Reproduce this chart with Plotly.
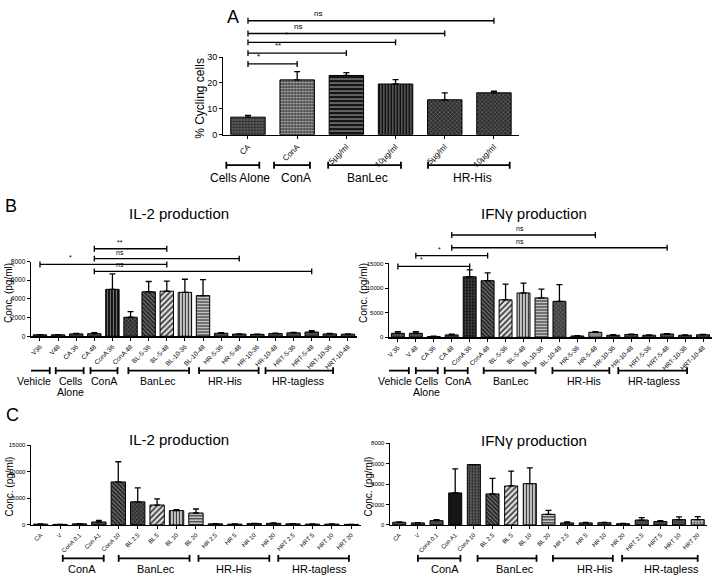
import plotly.graph_objects as go

W, H = 713, 583
FONT = "Arial, 'Liberation Sans', Helvetica, sans-serif"

# ======================= DATA =======================
# Panel A : % cycling cells
a_labels = ["CA", "ConA", "5µg/ml", "10µg/ml", "5µg/ml", "10µg/ml"]
a_values = [6.8, 21.2, 22.9, 19.6, 13.5, 16.2]
a_errors = [0.7, 3.2, 1.1, 1.7, 2.7, 0.6]
a_groups = ["Cells Alone", "ConA", "BanLec", "HR-His"]
a_sig = [(0, 5, "ns"), (0, 4, "ns"), (0, 3, "*"), (0, 2, "**"), (0, 1, "*")]

# Panel B : IL-2 production (pg/ml)
b_il2_labels = ["V36", "V48", "CA 36", "CA 48", "ConA 36", "ConA 48", "BL-5-36", "BL-5-48",
                "BL-10-36", "BL-10-48", "HR-5-36", "HR-5-48", "HR-10-36", "HR-10-48",
                "HRT-5-36", "HRT-5-48", "HRT-10-36", "HRT-10-48"]
b_il2_values = [150, 150, 250, 270, 5020, 2030, 4760, 4820, 4700, 4350, 320, 230, 200, 280, 360, 450, 250, 220]
b_il2_errors = [30, 20, 50, 100, 1650, 600, 1100, 1080, 1400, 1720, 70, 30, 30, 50, 60, 150, 40, 40]
b_il2_sig = [(3, 7, "**"), (3, 11, "ns"), (0, 7, "*"), (3, 15, "ns")]

# Panel B : IFNγ production (pg/ml)
b_ifn_labels = ["V 36", "V 48", "CA 36", "CA 48", "ConA 36", "ConA 48", "BL-5-36", "BL-5-48",
                "BL-10-36", "BL-10-48", "HR-5-36", "HR-5-48", "HR-10-36", "HR-10-48",
                "HRT-5-36", "HRT-5-48", "HRT-10-36", "HRT-10-48"]
b_ifn_values = [800, 800, 150, 470, 12300, 11500, 7600, 9000, 8000, 7300, 250, 1000, 400, 550, 400, 650, 400, 500]
b_ifn_errors = [330, 330, 50, 150, 1400, 1600, 3200, 2000, 1800, 3400, 50, 150, 100, 80, 60, 80, 60, 60]
b_ifn_sig = [(3, 11, "ns"), (3, 15, "ns"), (1, 5, "*"), (0, 4, "*")]
b_groups = ["Vehicle", "Cells\nAlone", "ConA", "BanLec", "HR-His", "HR-tagless"]

# Panel C : dose response
c_labels = ["CA", "V", "ConA 0.1", "Con A1", "ConA 10", "BL 2.5", "BL 5", "BL 10", "BL 20",
            "HR 2.5", "HR 5", "HR 10", "HR 20", "HRT 2.5", "HRT 5", "HRT 10", "HRT 20"]
c_il2_values = [150, 100, 200, 550, 8100, 4350, 3750, 2700, 2250, 200, 150, 250, 300, 200, 150, 150, 100]
c_il2_errors = [30, 20, 50, 310, 3800, 2650, 1150, 200, 750, 40, 30, 60, 100, 40, 30, 30, 20]
c_ifn_values = [260, 200, 420, 3140, 5920, 3040, 3820, 4050, 1040, 200, 200, 220, 120, 480, 330, 520, 520]
c_ifn_errors = [40, 30, 100, 2360, 0, 1520, 1450, 1550, 380, 90, 40, 40, 30, 230, 90, 260, 290]
c_groups = ["ConA", "BanLec", "HR-His", "HR-tagless"]

# ======================= STYLES =======================
STYLES = {
    "solid_dk":  dict(bg="#4a4a4a", shape="",   fg="#000000", size=4, sol=0.3),
    "solid_md":  dict(bg="#8a8a8a", shape="",   fg="#000000", size=4, sol=0.3),
    "solid_blk": dict(bg="#151515", shape="",   fg="#000000", size=4, sol=0.3),
    "dots_dk":   dict(bg="#666666", shape=".",  fg="#222222", size=3, sol=0.45),
    "dots_on_dk": dict(bg="#444444", shape=".", fg="#c0c0c0", size=3, sol=0.4),
    "dots_blk":  dict(bg="#111111", shape=".",  fg="#5a5a5a", size=3, sol=0.4),
    "hl_blk":    dict(bg="#111111", shape="-",  fg="#9a9a9a", size=4, sol=0.3),
    "vl_blk":    dict(bg="#111111", shape="|",  fg="#7a7a7a", size=3, sol=0.35),
    "xh_dk":     dict(bg="#2e2e2e", shape="x",  fg="#7a7a7a", size=3, sol=0.3),
    "xh_md":     dict(bg="#5a5a5a", shape="x",  fg="#222222", size=3, sol=0.35),
    "bd_dk":     dict(bg="#262626", shape="\\", fg="#8a8a8a", size=3, sol=0.3),
    "fd_lt":     dict(bg="#e2e2e2", shape="/",  fg="#333333", size=4, sol=0.4),
    "vl_lt":     dict(bg="#e2e2e2", shape="|",  fg="#333333", size=3, sol=0.45),
    "hl_lt":     dict(bg="#e2e2e2", shape="-",  fg="#222222", size=3, sol=0.45),
    "dots_lt":   dict(bg="#d0d0d0", shape=".",  fg="#333333", size=3, sol=0.4),
}
a_style = ["dots_dk", "dots_on_dk", "hl_blk", "vl_blk", "xh_dk", "xh_dk"]
b_il2_style = ["solid_dk"] * 4 + ["vl_blk", "xh_dk", "bd_dk", "fd_lt", "vl_lt", "hl_lt"] + ["solid_dk"] * 8
b_ifn_style = ["dots_dk", "dots_dk", "solid_dk", "solid_dk", "dots_blk", "bd_dk", "fd_lt", "vl_lt",
               "hl_lt", "xh_md", "solid_dk", "solid_md"] + ["solid_dk"] * 6
c_il2_style = ["solid_dk"] * 4 + ["bd_dk", "xh_dk", "fd_lt", "vl_lt", "hl_lt"] + ["solid_dk"] * 8
c_ifn_style = ["solid_dk"] * 3 + ["solid_blk", "dots_dk", "bd_dk", "fd_lt", "vl_lt", "hl_lt"] + \
              ["solid_dk"] * 7 + ["dots_lt"]

# ======================= LAYOUT (pixel geometry) =======================
def px(x):
    return x / W


def py(y):
    return 1 - y / H


panels = [
    dict(labels=a_labels, values=a_values, errors=a_errors, style=a_style,
         xpx=(222, 518), ypx=(53, 132), ymax=30, dtick=10, bw=0.7, xfont=8, yfont=9,
         title=None, ytitle=("% Cycling cells", 199, 95, 12),
         sig=a_sig, sig_y=[16, 29, 38, 49, 60], sig_lx=[1.43, 1.02, 0.78, 0.61, 0.21], sigfont=8,
         groups=a_groups, gspans=[(-0.44, 0.23), (0.53, 1.26), (1.63, 3.11), (3.66, 5.32)],
         glx=[-0.16, 0.98, 2.42, 4.57], gy=163, gly=176, gfont=12),
    dict(labels=b_il2_labels, values=b_il2_values, errors=b_il2_errors, style=b_il2_style,
         xpx=(29, 356), ypx=(261, 337), ymax=8000, dtick=2000, bw=0.74, xfont=6.5, yfont=6.5,
         title=("IL-2 production", 177, 212), ytitle=("Conc. (pg/ml)", 7, 293, 10),
         sig=b_il2_sig, sig_y=[248, 258, 264, 271], sig_lx=[4.44, 4.44, 1.7, 4.44], sigfont=7,
         groups=b_groups, gspans=[(-0.55, 0.54), (0.87, 2.41), (2.79, 4.28), (4.88, 8.23),
                                  (8.78, 12.07), (12.45, 16.18)],
         glx=[-0.34, 1.7, 3.56, 6.53, 10.2, 14.26], gy=372, gly=383, gfont=10.5),
    dict(labels=b_ifn_labels, values=b_ifn_values, errors=b_ifn_errors, style=b_ifn_style,
         xpx=(388, 712), ypx=(263, 338), ymax=15000, dtick=5000, bw=0.72, xfont=6.5, yfont=6,
         title=("IFNγ production", 533, 212), ytitle=("Conc. (pg/ml)", 363, 293, 10),
         sig=b_ifn_sig, sig_y=[234, 247, 255, 266], sig_lx=[6.83, 6.83, 2.33, 1.33], sigfont=7,
         groups=b_groups, gspans=[(-0.67, 0.61), (1.0, 2.22), (2.61, 3.89), (4.78, 7.67),
                                  (8.61, 11.78), (12.28, 16.11)],
         glx=[-0.17, 1.61, 3.33, 6.28, 10.39, 14.28], gy=372, gly=383, gfont=10.5),
    dict(labels=c_labels, values=c_il2_values, errors=c_il2_errors, style=c_il2_style,
         xpx=(29, 360), ypx=(448, 529), ymax=15000, dtick=5000, bw=0.74, xfont=6, yfont=6,
         title=("IL-2 production", 177, 442), ytitle=("Conc. (pg/ml)", 8, 490, 10),
         sig=[], sig_y=[], sig_lx=[], sigfont=7,
         groups=c_groups, gspans=[(1.14, 3.25), (4.02, 7.67), (8.13, 11.78), (12.24, 15.88)],
         glx=[2.12, 5.92, 9.98, 14.34], gy=563, gly=574, gfont=11),
    dict(labels=c_labels, values=c_ifn_values, errors=c_ifn_errors, style=c_ifn_style,
         xpx=(389, 707), ypx=(446, 529), ymax=8000, dtick=2000, bw=0.7, xfont=6, yfont=6,
         title=("IFNγ production", 533, 443), ytitle=("Conc. (pg/ml)", 368, 490, 10),
         sig=[], sig_y=[], sig_lx=[], sigfont=7,
         groups=c_groups, gspans=[(1.0, 3.28), (4.2, 7.36), (8.24, 11.45), (11.95, 16.0)],
         glx=[2.45, 6.2, 10.5, 14.6], gy=563, gly=574, gfont=11),
]

fig = go.Figure()
shapes, annotations = [], []
layout = {}


def ann(text, x, y, size, xref="paper", yref="paper", xanchor="center", yanchor="middle", angle=0):
    annotations.append(dict(text=text, x=x, y=y, xref=xref, yref=yref, xanchor=xanchor,
                            yanchor=yanchor, textangle=angle, showarrow=False,
                            font=dict(family=FONT, size=size, color="black")))


def bracket(xref, x0, x1, ypx, cap, width):
    y = py(ypx)
    c = cap / H
    shapes.append(dict(type="line", xref=xref, yref="paper", x0=x0, x1=x1, y0=y, y1=y,
                       line=dict(color="black", width=width)))
    for xx in (x0, x1):
        shapes.append(dict(type="line", xref=xref, yref="paper", x0=xx, x1=xx, y0=y - c, y1=y + c,
                           line=dict(color="black", width=width)))


for k, p in enumerate(panels):
    sfx = "" if k == 0 else str(k + 1)
    xa, ya = "x" + sfx, "y" + sfx
    n = len(p["labels"])
    idx = list(range(n))
    # one trace per fill style (bars overlaid at their own category positions)
    for sname in dict.fromkeys(p["style"]):
        s = STYLES[sname]
        sel = [i for i in idx if p["style"][i] == sname]
        fig.add_trace(go.Bar(
            x=sel, y=[p["values"][i] for i in sel], xaxis=xa, yaxis=ya, width=p["bw"],
            showlegend=False,
            marker=dict(color=s["bg"], line=dict(color="black", width=1),
                        pattern=dict(shape=s["shape"], fgcolor=s["fg"], bgcolor=s["bg"],
                                     size=s["size"], solidity=s["sol"], fillmode="replace")),
            error_y=dict(type="data", symmetric=False, array=[p["errors"][i] for i in sel],
                         arrayminus=[0] * len(sel), color="black", thickness=1.3, width=3),
        ))
    layout["xaxis" + sfx] = dict(
        domain=[px(p["xpx"][0]), px(p["xpx"][1])], anchor=ya, range=[-0.5, n - 0.5],
        tickmode="array", tickvals=idx, ticktext=p["labels"], tickangle=-45,
        ticks="outside", ticklen=3, tickwidth=1, tickcolor="black",
        showline=True, linecolor="black", linewidth=1.3, showgrid=False, zeroline=False,
        tickfont=dict(family=FONT, size=p["xfont"], color="black"), fixedrange=True)
    layout["yaxis" + sfx] = dict(
        domain=[py(p["ypx"][1]), py(p["ypx"][0])], anchor=xa, range=[0, p["ymax"]],
        dtick=p["dtick"], tick0=0, tickformat="d", ticks="outside", ticklen=3, tickwidth=1,
        tickcolor="black", showline=True, linecolor="black", linewidth=1.3, showgrid=False,
        zeroline=False, tickfont=dict(family=FONT, size=p["yfont"], color="black"),
        fixedrange=True)
    # significance brackets
    for (i0, i1, lab), yy, lx in zip(p["sig"], p["sig_y"], p["sig_lx"]):
        bracket(xa, i0, i1, yy, 3, 1.3)
        ann(lab, lx, py(yy - 1), p["sigfont"], xref=xa, yanchor="bottom")
    # group brackets
    for g, (g0, g1), gx in zip(p["groups"], p["gspans"], p["glx"]):
        bracket(xa, g0, g1, p["gy"], 3.5, 1.8)
        for li, line in enumerate(g.split("\n")):
            ann(line, gx, py(p["gly"] + li * 11), p["gfont"], xref=xa)
    if p["title"]:
        t, tx, ty = p["title"]
        ann(t, px(tx), py(ty), 15)
    yt, yx, yy, ys = p["ytitle"]
    ann(yt, px(yx), py(yy), ys, angle=-90)

ann("A", px(232), py(12), 18)
ann("B", px(9), py(205), 18)
ann("C", px(11), py(417), 18)

fig.update_layout(
    width=W, height=H, autosize=False, margin=dict(l=0, r=0, t=0, b=0),
    paper_bgcolor="white", plot_bgcolor="white", barmode="overlay", hovermode=False,
    font=dict(family=FONT, color="black"),
    shapes=shapes, annotations=annotations, **layout)

fig.write_html("out.html", config={"displayModeBar": False, "staticPlot": True},
               post_script="document.body.style.margin='0px';document.body.style.padding='0px';")
